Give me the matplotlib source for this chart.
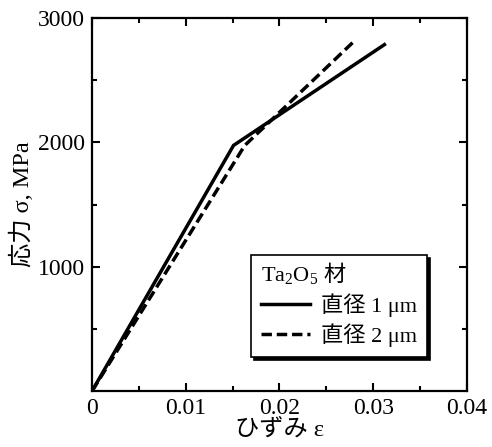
import matplotlib
matplotlib.use("Agg")
import matplotlib.pyplot as plt

plt.rcParams['font.family'] = ['Liberation Serif', 'Noto Sans CJK JP']
plt.rcParams['mathtext.fontset'] = 'custom'
plt.rcParams['mathtext.rm'] = 'Liberation Serif'
plt.rcParams['mathtext.default'] = 'regular'

# stress-strain curves
strain_1um = [0.0, 0.0151, 0.0312]
stress_1um = [0, 1975, 2785]
strain_2um = [0.0, 0.0163, 0.0280]
stress_2um = [0, 1975, 2815]

label_1um = "直径 1 μm"
label_2um = "直径 2 μm"

xticks = [0, 0.01, 0.02, 0.03, 0.04]
xtick_labels = ["0", "0.01", "0.02", "0.03", "0.04"]
yticks = [1000, 2000, 3000]

fig = plt.figure(figsize=(4.92, 4.47), dpi=100)
ax = fig.add_axes([0.187, 0.125, 0.762, 0.835])

ax.plot(strain_1um, stress_1um, color='k', linewidth=2.5, solid_joinstyle='miter',
        label=label_1um)
ax.plot(strain_2um, stress_2um, color='k', linewidth=2.5, linestyle=(0, (3, 1.4)),
        label=label_2um)

ax.set_xlim(0, 0.04)
ax.set_ylim(0, 3000)
ax.set_xticks(xticks)
ax.set_xticklabels(xtick_labels)
ax.set_xticks([0.005, 0.015, 0.025, 0.035], minor=True)
ax.set_yticks(yticks)
ax.set_yticks([500, 1500, 2500], minor=True)

ax.tick_params(which='both', direction='in', top=True, right=True,
               width=1.5, labelsize=17, pad=5)
ax.tick_params(which='major', length=6)
ax.tick_params(which='minor', length=3.5)
for s in ax.spines.values():
    s.set_linewidth(1.6)

ax.set_xlabel("ひずみ ε", fontsize=17.5, labelpad=0)
ax.set_ylabel("応力 σ, MPa", fontsize=17.5, labelpad=3)

leg = ax.legend(loc='lower right', bbox_to_anchor=(0.893, 0.091), borderaxespad=0,
                fontsize=16, title="Ta$_2$O$_5$", title_fontsize=16,
                alignment='left', handlelength=2.2, handletextpad=0.5,
                fancybox=False, edgecolor='k', framealpha=1,
                shadow={'color': 'k', 'alpha': 1},
                borderpad=0.45, labelspacing=0.3)
leg.get_frame().set_linewidth(1.2)

# add the CJK part of the legend title right after the formula
fig.canvas.draw()
bb = leg.get_title().get_window_extent()
fig.text((bb.x1 + 5) / fig.bbox.width, bb.y0 / fig.bbox.height, "材",
         fontsize=16, ha='left', va='bottom', zorder=10)

fig.savefig("out.png", dpi=100)
